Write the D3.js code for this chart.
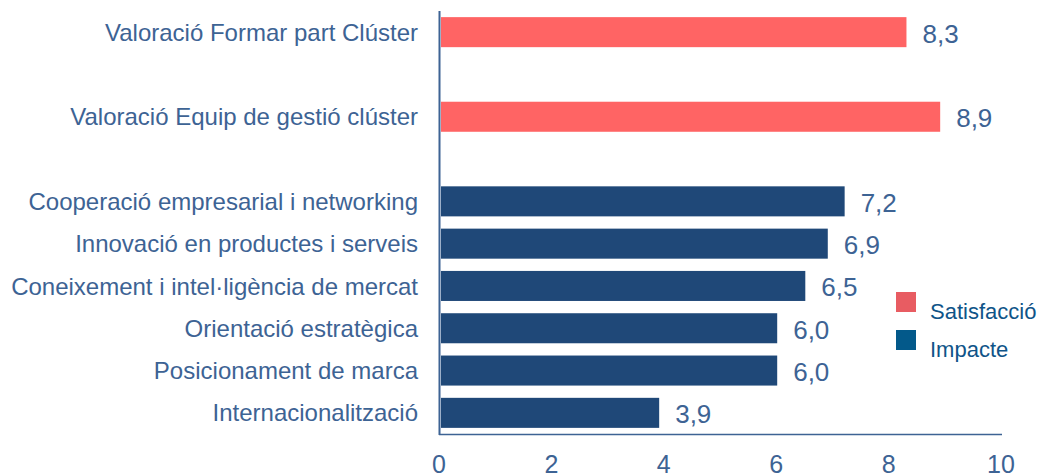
<!DOCTYPE html>
<html>
<head>
<meta charset="utf-8">
<script src="https://cdn.jsdelivr.net/npm/d3@7"></script>
<style>
  body { margin: 0; background: #fff; }
  text { font-family: "Liberation Sans", Arial, sans-serif; fill: #3d6394; }
</style>
</head>
<body>
<div id="chart"></div>
<script>
(function() {
  // data, top to bottom ("" = empty gap row)
  var categories = ["Valoració Formar part Clúster", "", "Valoració Equip de gestió clúster", " ",
    "Cooperació empresarial i networking", "Innovació en productes i serveis",
    "Coneixement i intel·ligència de mercat", "Orientació estratègica",
    "Posicionament de marca", "Internacionalització"]
  var values = [8.3, null, 8.9, null, 7.2, 6.9, 6.5, 6.0, 6.0, 3.9]
  var groups = ["Satisfacció", null, "Satisfacció", null, "Impacte", "Impacte", "Impacte", "Impacte", "Impacte", "Impacte"]
  var xTicks = [0, 2, 4, 6, 8, 10]
  var legendLabels = ["Satisfacció", "Impacte"]

  var width = 1041, height = 474

  var svg = d3.select("#chart")
    .append("svg")
    .attr("width", width)
    .attr("height", height)

  var xScale = d3.scaleLinear().domain([0, 10]).range([440, 1002])
  var yScale = d3.scaleBand()
    .domain(categories)
    .range([11, 434])
    .paddingInner(0.29)
    .paddingOuter(0.145)

  var barColor = d3.scaleOrdinal().domain(legendLabels).range(["#ff6464", "#1f4878"])
  var legendColor = d3.scaleOrdinal().domain(legendLabels).range(["#e85c62", "#03598a"])

  var rows = categories.map(function(c, i) {
    return { name: c, value: values[i], group: groups[i] }
  })

  svg.selectAll(".bar")
    .data(rows.filter(function(d) { return d.value !== null }))
    .enter().append("rect")
    .attr("class", "bar")
    .attr("x", xScale(0) + 1)
    .attr("y", function(d) { return yScale(d.name) })
    .attr("height", yScale.bandwidth())
    .attr("width", function(d) { return xScale(d.value) - xScale(0) - 1 })
    .attr("fill", function(d) { return barColor(d.group) })

  svg.selectAll(".value")
    .data(rows.filter(function(d) { return d.value !== null }))
    .enter().append("text")
    .attr("class", "value")
    .attr("x", function(d) { return xScale(d.value) + 16 })
    .attr("y", function(d) { return yScale(d.name) + yScale.bandwidth() / 2 + 1 })
    .attr("dy", "0.36em")
    .attr("font-size", 26)
    .text(function(d) { return d3.format(".1f")(d.value).replace(".", ",") })

  svg.selectAll(".cat")
    .data(rows.filter(function(d) { return d.value !== null }))
    .enter().append("text")
    .attr("class", "cat")
    .attr("x", 418)
    .attr("y", function(d) { return yScale(d.name) + yScale.bandwidth() / 2 })
    .attr("dy", "0.36em")
    .attr("text-anchor", "end")
    .attr("font-size", 24)
    .text(function(d) { return d.name })

  // axes lines
  svg.append("line")
    .attr("x1", 439.5).attr("x2", 439.5)
    .attr("y1", 11).attr("y2", 435)
    .attr("stroke", "#3d6394").attr("stroke-width", 2)
  svg.append("line")
    .attr("x1", 439).attr("x2", 1002)
    .attr("y1", 434.5).attr("y2", 434.5)
    .attr("stroke", "#3d6394").attr("stroke-width", 1.5)

  svg.selectAll(".tick-label")
    .data(xTicks)
    .enter().append("text")
    .attr("class", "tick-label")
    .attr("x", function(d) { return xScale(d) - 1 })
    .attr("y", 464)
    .attr("dy", "0.36em")
    .attr("text-anchor", "middle")
    .attr("font-size", 25)
    .text(function(d) { return d })

  // legend
  var legend = svg.selectAll(".legend")
    .data(legendLabels)
    .enter().append("g")
    .attr("class", "legend")
    .attr("transform", function(d, i) { return "translate(896," + (292 + i * 38) + ")" })
  legend.append("rect")
    .attr("width", 20).attr("height", 20)
    .attr("fill", function(d) { return legendColor(d) })
  legend.append("text")
    .attr("x", 34).attr("y", 19)
    .attr("dy", "0.36em")
    .attr("font-size", 22)
    .style("fill", "#0f5488")
    .text(function(d) { return d })
})();
</script>
</body>
</html>
